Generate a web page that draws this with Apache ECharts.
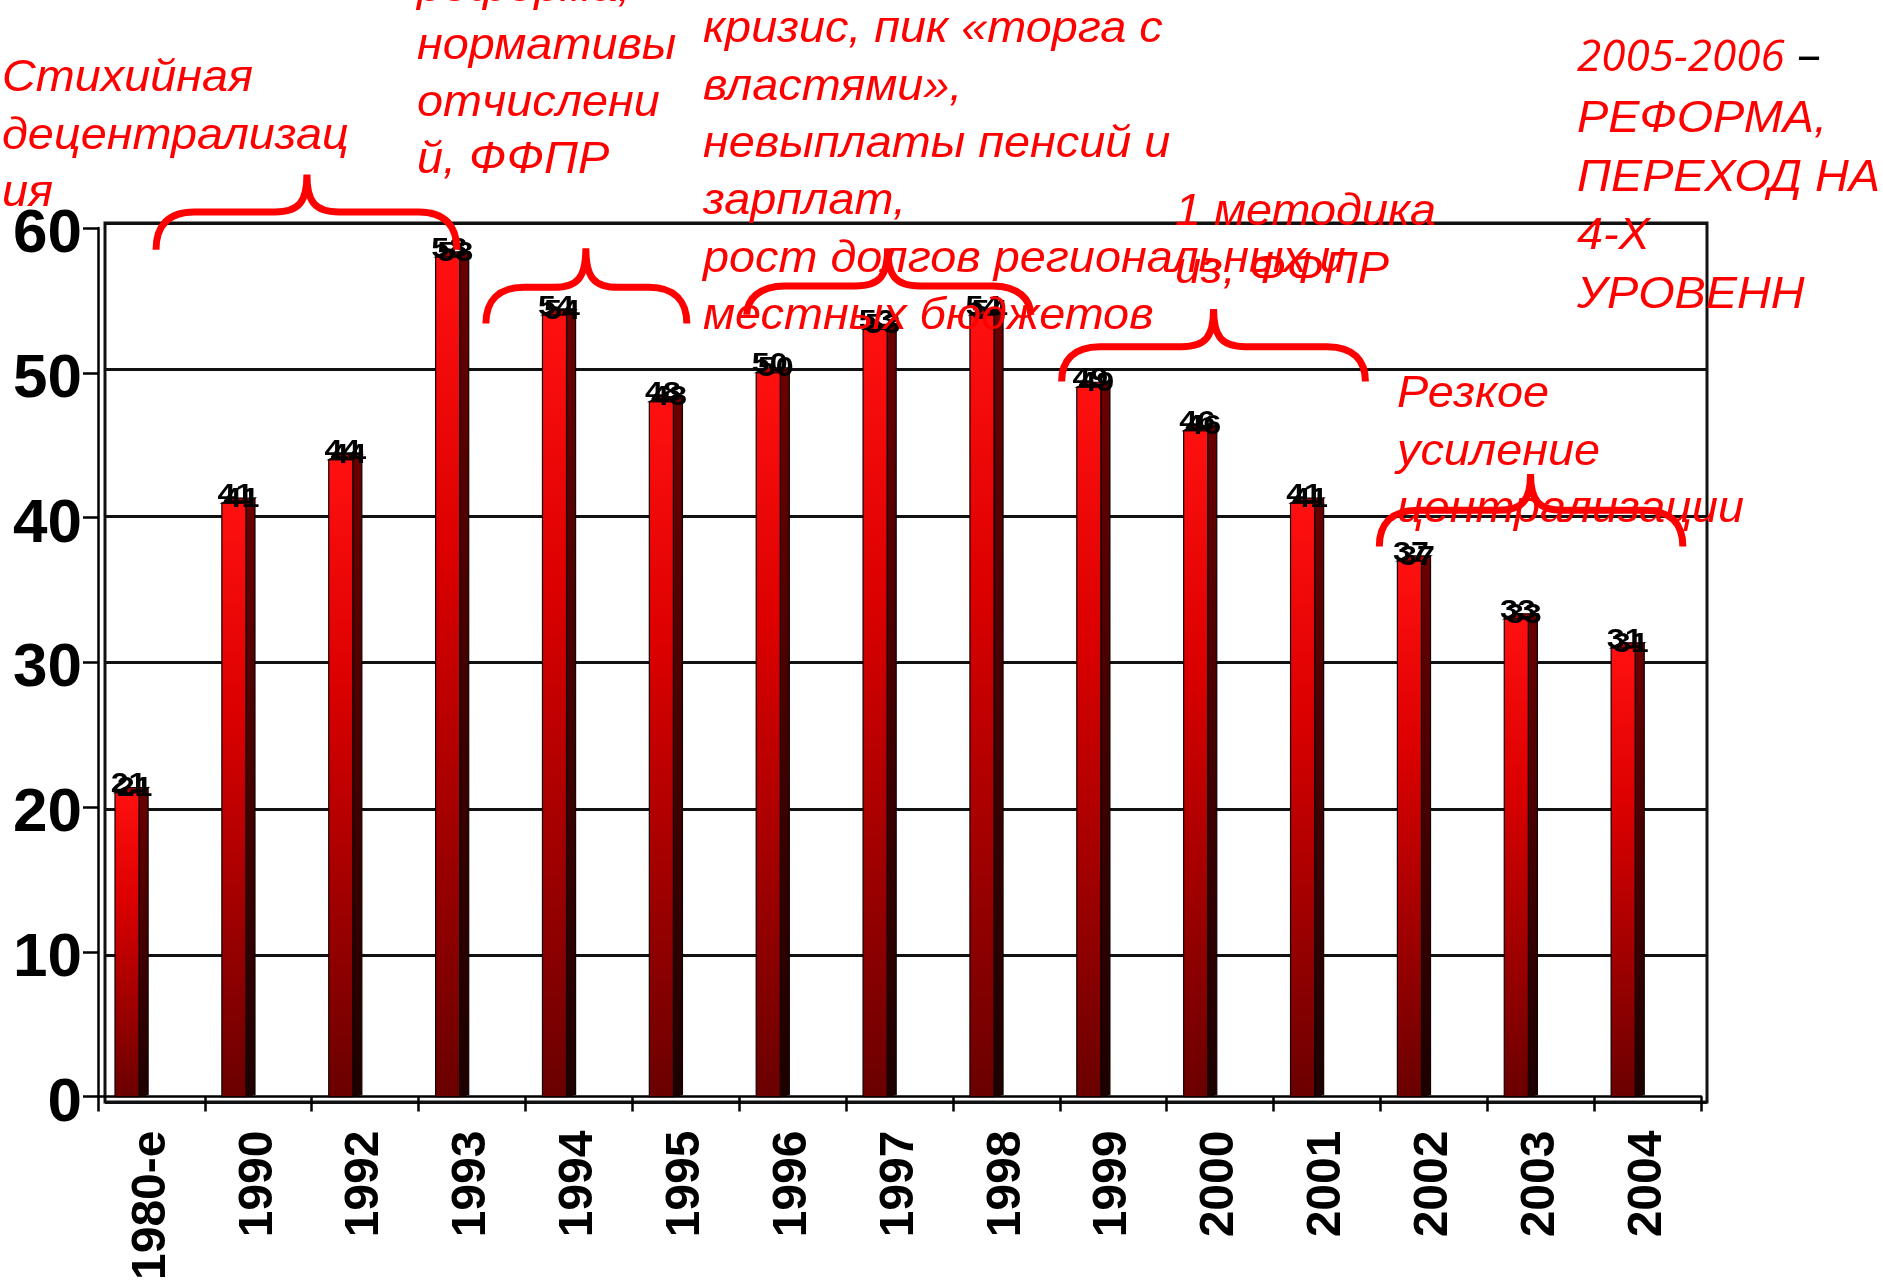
<!DOCTYPE html>
<html>
<head>
<meta charset="utf-8">
<script src="https://cdn.jsdelivr.net/npm/echarts@6/dist/echarts.min.js"></script>
<style>
html,body{margin:0;padding:0;background:#fff;}
#chart{width:1883px;height:1283px;}
</style>
</head>
<body>
<div id="chart"></div>
<script>
// Доля региональных и местных бюджетов, %
const categories = ['1980-е','1990','1992','1993','1994','1995','1996','1997','1998','1999','2000','2001','2002','2003','2004'];
const shares = [21, 41, 44, 58, 54, 48, 50, 53, 54, 49, 46, 41, 37, 33, 31];
const yMin = 0, yMax = 60, yStep = 10;

// Подписи периодов
const noteDecentral = ['Стихийная', 'децентрализац', 'ия'];
const noteReform = ['реформа,', 'нормативы', 'отчислени', 'й, ФФПР'];
const noteCrisis = ['кризис, пик «торга с', 'властями»,', 'невыплаты пенсий и', 'зарплат,', 'рост долгов региональных и', 'местных бюджетов'];
const noteMethod = ['1 методика', 'из, ФФПР'];
const noteCentral = ['Резкое', 'усиление', 'централизации'];
const noteYears = '2005-2006';
const noteReform2005 = ['РЕФОРМА,', 'ПЕРЕХОД НА', '4-Х', 'УРОВЕНН'];

// Фигурные скобки над периодами: [начало, конец, вершина] в долях категории, [концы, перекладина, вершина] в единицах оси Y
const braceSpans = [
  [0.043, 2.858, 1.455, 58.5, 61.1, 63.7],
  [3.13, 5.01, 4.065, 53.4, 55.9, 58.6],
  [5.571, 8.228, 6.889, 54.0, 56.0, 58.6],
  [8.517, 11.36, 9.939, 49.4, 51.8, 54.4],
  [11.49, 14.33, 12.905, 38.0, 40.5, 43.0]
];

const FONT = "'Liberation Sans', Arial, sans-serif";
const NOTE_SIZE = 45;
const NOTE_SCALE = 1.04;
const NOTE_STEP = 57.4;

const chart = echarts.init(document.getElementById('chart'), null, {renderer: 'canvas'});

function renderBar(params, api) {
  const i = api.value(0), v = api.value(1);
  const top = api.coord([i, v]);
  const base = api.coord([i, 0]);
  const w = api.size([1, 0])[0];
  const x0 = top[0] - 0.341 * w;
  const x1 = x0 + 0.225 * w;
  const x2 = x1 + 0.085 * w;
  const d = 5;
  const yT = top[1], yB = base[1];
  const front = new echarts.graphic.LinearGradient(0, 0, 0, 1, [
    {offset: 0, color: '#ff1010'},
    {offset: 0.35, color: '#dc0000'},
    {offset: 1, color: '#6a0000'}
  ]);
  const side = new echarts.graphic.LinearGradient(0, 0, 0, 1, [
    {offset: 0, color: '#6a0000'},
    {offset: 1, color: '#1c0000'}
  ]);
  const cx = (x0 + x2) / 2;
  const label = String(v);
  const labelFont = 'bold 28px ' + FONT;
  return {
    type: 'group',
    children: [
      {type: 'polygon', shape: {points: [[x1, yT], [x2, yT - d], [x2, yB - 2], [x1, yB]]},
        style: {fill: side, stroke: '#140000', lineWidth: 1.2}},
      {type: 'rect', shape: {x: x0, y: yT, width: x1 - x0, height: yB - yT},
        style: {fill: front, stroke: '#140000', lineWidth: 1.2}},
      {type: 'polygon', shape: {points: [[x0, yT], [x1, yT], [x2, yT - d], [x0 + (x2 - x1), yT - d]]},
        style: {fill: '#b00000', stroke: '#140000', lineWidth: 1.2}},
      {type: 'text', x: cx - 3, y: yT - 8, scaleX: 1.15,
        style: {text: label, font: labelFont, fill: '#000', align: 'center', verticalAlign: 'middle'}},
      {type: 'text', x: cx + 3, y: yT - 4, scaleX: 1.15,
        style: {text: label, font: labelFont, fill: '#000', align: 'center', verticalAlign: 'middle'}}
    ]
  };
}

function renderBrace(params, api) {
  const b = braceSpans[params.dataIndex];
  const c0 = api.coord([0, 0])[0];
  const w = api.size([1, 0])[0];
  const X = function (f) { return c0 + f * w; };
  const Y = function (v) { return api.coord([0, v])[1]; };
  const x0 = X(b[0]), x1 = X(b[1]), xp = X(b[2]);
  const yE = Y(b[3]), yB = Y(b[4]), yP = Y(b[5]);
  const R = 38, r = 32;
  const d = 'M' + x0 + ',' + yE +
    ' C' + x0 + ',' + (yB + 14) + ' ' + (x0 + 12) + ',' + yB + ' ' + (x0 + R) + ',' + yB +
    ' L' + (xp - r) + ',' + yB +
    ' C' + (xp - 8) + ',' + yB + ' ' + xp + ',' + (yB - 10) + ' ' + xp + ',' + yP +
    ' M' + xp + ',' + yP +
    ' C' + xp + ',' + (yB - 10) + ' ' + (xp + 8) + ',' + yB + ' ' + (xp + r) + ',' + yB +
    ' L' + (x1 - R) + ',' + yB +
    ' C' + (x1 - 12) + ',' + yB + ' ' + x1 + ',' + (yB + 14) + ' ' + x1 + ',' + yE;
  return {type: 'path', shape: {pathData: d},
    style: {fill: 'none', stroke: '#ff0000', lineWidth: 7}};
}

// Текстовые подписи: положение блока и шаг строк
const noteLayout = [
  {lines: noteDecentral, x: 2, y: 94},
  {lines: noteReform, x: 417, y: 4},
  {lines: noteCrisis, x: 703, y: 45},
  {lines: noteMethod, x: 1175, y: 228},
  {lines: noteCentral, x: 1397, y: 410},
  {lines: noteReform2005, x: 1577, y: 135, step: 58.5}
];

const elements = [];
noteLayout.forEach(function (blk) {
  const step = blk.step || NOTE_STEP;
  blk.lines.forEach(function (t, k) {
    const base = blk.y + k * step;
    elements.push({type: 'text', z: 30, x: blk.x, y: base - 0.34 * NOTE_SIZE, scaleX: NOTE_SCALE,
      style: {text: t, font: 'italic ' + NOTE_SIZE + 'px ' + FONT, fill: '#ff0000', align: 'left', verticalAlign: 'middle'}});
  });
});
elements.push({type: 'text', z: 30, x: 1577, y: 73 - 0.34 * 44,
  style: {text: noteYears, font: "italic 44px 'Open Sans', sans-serif", fill: '#ff0000', align: 'left', verticalAlign: 'middle'}});
elements.push({type: 'text', z: 30, x: 1797, y: 73 - 0.34 * 46,
  style: {text: '–', font: "48px 'Open Sans', sans-serif", fill: '#000', align: 'left', verticalAlign: 'middle'}});

const option = {
  backgroundColor: '#fff',
  animation: false,
  grid: [
    {left: 98, right: 182, top: 228, bottom: 177},
    {left: 105, right: 176, top: 223, bottom: 181, show: true, borderColor: '#111', borderWidth: 3, backgroundColor: 'transparent'}
  ],
  xAxis: [
    {type: 'category', gridIndex: 0, data: categories, boundaryGap: true,
      axisLine: {show: true, lineStyle: {color: '#000', width: 2.5}},
      axisTick: {show: true, length: 15, lineStyle: {color: '#000', width: 2.5}},
      axisLabel: {rotate: 90, margin: 34, interval: 0, color: '#000', fontFamily: FONT, fontWeight: 'bold', fontSize: 48},
      splitLine: {show: false}},
    {type: 'category', gridIndex: 1, data: categories, show: false}
  ],
  yAxis: [
    {type: 'value', gridIndex: 0, min: yMin, max: yMax, interval: yStep,
      axisLine: {show: true, lineStyle: {color: '#000', width: 2.5}},
      axisTick: {show: true, length: 15, lineStyle: {color: '#000', width: 2.5}},
      axisLabel: {margin: 16, verticalAlign: 'top', lineHeight: 14, color: '#000', fontFamily: FONT, fontWeight: 'bold', fontSize: 62},
      splitLine: {show: false}},
    {type: 'value', gridIndex: 1, min: yMin, max: yMax, interval: yStep,
      axisLine: {show: false}, axisTick: {show: false}, axisLabel: {show: false},
      splitLine: {show: true, lineStyle: {color: '#111', width: 3}}}
  ],
  graphic: {elements: elements},
  series: [
    {type: 'custom', xAxisIndex: 0, yAxisIndex: 0, z: 5, clip: false,
      data: shares.map(function (v, i) { return [i, v]; }),
      renderItem: renderBar},
    {type: 'custom', xAxisIndex: 0, yAxisIndex: 0, z: 20, clip: false, silent: true,
      data: braceSpans.map(function (b, i) { return [i, 0]; }),
      renderItem: renderBrace}
  ]
};
chart.setOption(option);
</script>
</body>
</html>
